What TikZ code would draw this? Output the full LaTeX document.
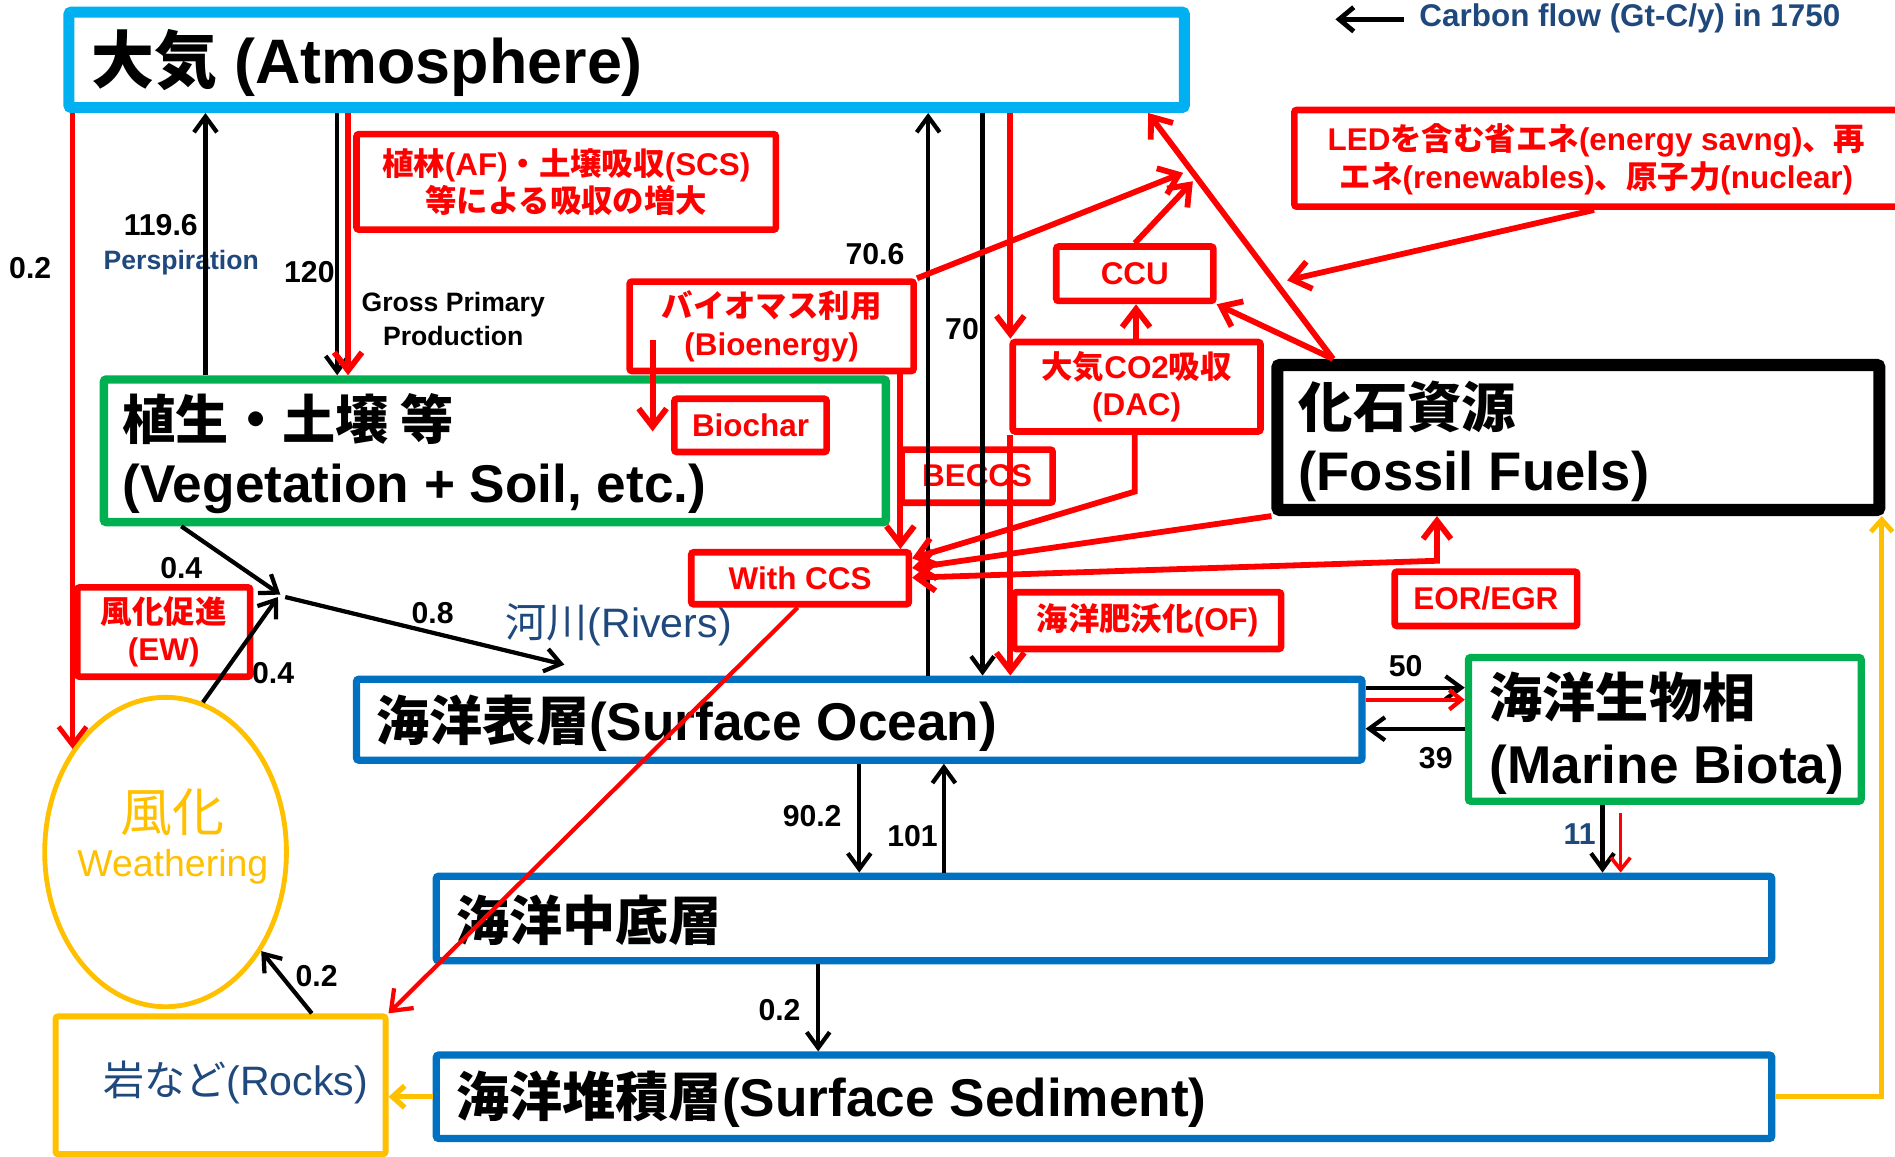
\documentclass[tikz,border=0pt]{standalone}
\usepackage{fontspec}
\setmainfont{Liberation Sans}
\newfontfamily\jp{Noto Sans CJK JP}
\newcommand\J[1]{{\jp #1}}
\newcommand\fs[2]{\fontsize{#1}{#2}\selectfont}
\usetikzlibrary{arrows.meta,shapes.geometric,fit}
\definecolor{cyanb}{HTML}{00B0F0}
\definecolor{grn}{HTML}{00B050}
\definecolor{blu}{HTML}{0070C0}
\definecolor{yel}{HTML}{FFC000}
\definecolor{dblue}{HTML}{1F497D}
\definecolor{rd}{HTML}{FF0000}
\tikzset{
  BT/.tip={Straight Barb[length=13pt,width=19pt]},
  RT/.tip={Straight Barb[length=15pt,width=23pt]},
  YT/.tip={Straight Barb[length=10pt,width=18pt]},
  mbox/.style={draw, inner sep=0pt, rounded corners=2pt, fill=white},
  rbox/.style={draw=rd, line width=5.5pt, inner sep=0pt, rounded corners=2pt, fill=white},
  rtxt/.style={text=rd, align=center, inner sep=0pt, font=\bfseries\fs{26}{31}},
  ttl/.style={anchor=base west, font=\bfseries\fs{44}{52}},
  num/.style={font=\bfseries\fs{25}{30}},
  blk/.style={draw=black, line width=3.5pt, -{BT}},
  rar/.style={draw=rd, line width=4.8pt, -{RT}},
  yar/.style={draw=yel, line width=4.5pt, -{YT}},
}
\begin{document}
\begin{tikzpicture}[x=1pt,y=-1pt]
\useasboundingbox (0,0) rectangle (1568,957);
% ---------- main boxes
\node[mbox, draw=cyanb, line width=9pt, fit={(57,10) (980,89)}] (atm) {};
\node[mbox, draw=grn, line width=7pt, fit={(86,314) (733,432)}] (veg) {};
\node[mbox, draw=black, line width=10pt, fit={(1057,302) (1555,422)}] (fos) {};
\node[mbox, draw=blu, line width=6pt, fit={(295,562) (1127,629)}] (sur) {};
\node[mbox, draw=grn, line width=6pt, fit={(1215,544) (1540,663)}] (mar) {};
\node[mbox, draw=blu, line width=6pt, fit={(361,725) (1466,795)}] (mid) {};
\node[mbox, draw=blu, line width=6pt, fit={(361,873) (1466,942)}] (sed) {};
\node[mbox, draw=yel, line width=5pt, fit={(46,841) (319,955)}] (rocks) {};
\node[ellipse, draw=yel, line width=4pt, fill=white, inner sep=0pt,
      minimum width=200pt, minimum height=256pt] (wea) at (137,705) {};
% ---------- main texts
\node[ttl, font=\bfseries\fs{52}{60}] (atmt) at (72,69) {\J{大気} (Atmosphere)};
\node[ttl] (vegt1) at (98,364) {\J{植生・土壌 等}};
\node[ttl] (vegt2) at (98,416) {(Vegetation + Soil, etc.)};
\node[ttl, font=\bfseries\fs{45}{52}] (fost1) at (1071,354) {\J{化石資源}};
\node[ttl, font=\bfseries\fs{45}{52}] (fost2) at (1071,406) {(Fossil Fuels)};
\node[ttl] (surt) at (308,613) {\J{海洋表層}(Surface Ocean)};
\node[ttl] (mart1) at (1229,594) {\J{海洋生物相}};
\node[ttl] (mart2) at (1229,648) {(Marine Biota)};
\node[ttl] (midt) at (374,778) {\J{海洋中底層}};
\node[ttl] (sedt) at (374,924) {\J{海洋堆積層}(Surface Sediment)};
\node[text=yel, font=\fs{43}{50}] (weat1) at (143,672) {\J{風化}};
\node[text=yel, font=\fs{31}{36}] (weat2) at (143,717) {Weathering};
\node[text=dblue, font=\fs{34}{40}] (rockt) at (195,896) {\J{岩など}(Rocks)};
\node[text=dblue, font=\fs{34}{40}] (rivt) at (512,517) {\J{河川}(Rivers)};
% ---------- legend
\coordinate (lg1) at (1162,16);
\coordinate (lg2) at (1105,16);
\draw[line width=4pt, -{Straight Barb[length=12pt,width=20pt]}] (lg1) -- (lg2);
\node[anchor=west, text=dblue, font=\bfseries\fs{26}{30}] (legt) at (1171,15) {Carbon flow (Gt-C/y) in 1750};
% ---------- labels
\node[num] (l02a) at (25,222) {0.2};
\node[num] (l1196) at (133,186) {119.6};
\node[text=dblue, font=\bfseries\fs{22}{26}] (lper) at (150,217) {Perspiration};
\node[num] (l120) at (256,225) {120};
\node[align=center, font=\bfseries\fs{22}{28}] (lgpp) at (375,264) {Gross Primary\\Production};
\node[num] (l706) at (724,210) {70.6};
\node[num] (l70) at (796,272) {70};
\node[num] (l04a) at (150,470) {0.4};
\node[num] (l04b) at (226,557) {0.4};
\node[num] (l08) at (358,507) {0.8};
\node[num] (l902) at (672,675) {90.2};
\node[num] (l101) at (755,692) {101};
\node[num] (l02b) at (645,836) {0.2};
\node[num] (l02c) at (262,808) {0.2};
\node[num] (l50) at (1163,551) {50};
\node[num] (l39) at (1188,627) {39};
\node[num, text=dblue] (l11) at (1307,690) {11};
% ---------- red boxes
\node[rbox, fit={(295,111) (642,190)}] (af) {};
\node[rbox, fit={(1071,91) (1578,171)}] (led) {};
\node[rbox, fit={(874,204) (1004,249)}] (ccu) {};
\node[rbox, fit={(521,233) (756,307)}] (bio) {};
\node[rbox, fit={(838,283) (1043,357)}] (dac) {};
\node[rbox, fit={(558,330) (684,374)}] (biochar) {};
\node[rbox, fit={(746,372) (871,416)}] (beccs) {};
\node[rbox, fit={(572,457) (752,500)}] (ccs) {};
\node[rbox, fit={(839,490) (1060,537)}] (of) {};
\node[rbox, fit={(1154,473) (1305,518)}] (eor) {};
\node[rbox, fit={(64,486) (207,560)}] (ew) {};
\node[rtxt] (aft) at (af.center) {\J{植林}(AF)\J{・土壌吸収}(SCS)\\\J{等による吸収の増大}};
\node[rtxt] (ledt) at (1321,132) {LED\J{を含む省エネ}(energy savng)\J{、再}\\\J{エネ}(renewables)\J{、原子力}(nuclear)};
\node[rtxt] (ccut) at (ccu.center) {CCU};
\node[rtxt] (biot) at (bio.center) {\J{バイオマス利用}\\(Bioenergy)};
\node[rtxt] (dact) at (dac.center) {\J{大気}CO2\J{吸収}\\(DAC)};
\node[rtxt] (biochart) at (biochar.center) {Biochar};
\node[rtxt] (beccst) at (beccs.center) {BECCS};
\node[rtxt] (ccst) at (ccs.center) {With CCS};
\node[rtxt] (oft) at (of.center) {\J{海洋肥沃化}(OF)};
\node[rtxt] (eort) at (eor.center) {EOR/EGR};
\node[rtxt] (ewt) at (ew.center) {\J{風化促進}\\(EW)};
% ---------- coordinates
\coordinate (riv1) at (232,492);
\coordinate (riv2) at (230,494);
\coordinate (riv3) at (236,494);
\coordinate (rivend) at (467,550);
\coordinate (bcstart) at (540,281);
\coordinate (bcend) at (540,357);
\coordinate (conv1) at (979,143);
\coordinate (conv2) at (987,150);
\coordinate (conv3) at (1065,232);
\coordinate (eorc) at (1189,464);
\coordinate (r11) at (1341,673);
% ---------- black arrows
\draw[blk] (veg.north -| 170,0) -- (atm.south -| 170,0);
\draw[blk] (atm.south -| 279,0) -- (veg.north -| 279,0);
\draw[blk] (sur.north -| 768,0) -- (atm.south -| 768,0);
\draw[blk] (atm.south -| 813,0) -- (sur.north -| 813,0);
\draw[blk] (veg.south -| 150,0) -- (riv1);
\draw[blk] (wea.76) -- (riv2);
\draw[blk] (riv3) -- (rivend);
\draw[blk] (sur.south -| 711,0) -- (mid.north -| 711,0);
\draw[blk] (mid.north -| 781,0) -- (sur.south -| 781,0);
\draw[blk] (mid.south -| 677,0) -- (sed.north -| 677,0);
\draw[blk] (rocks.north -| 258,0) -- (wea.-46);
\draw[blk] (sur.east |- 0,569) -- (mar.west |- 0,569);
\draw[blk] (mar.west |- 0,603) -- (sur.east |- 0,603);
\draw[blk] (mar.south -| 1326,0) -- (mid.north -| 1326,0);
% ---------- yellow arrows
\draw[yar] (sed.west) -- (rocks.east |- sed.west);
\draw[yar, line width=4pt] (sed.east) -| (fos.south -| 1557,0);
% ---------- red arrows
\draw[rar, line width=4pt] (atm.south -| 60,0) -- (wea.132 -| 60,0);
\draw[rar] (atm.south -| 288,0) -- (veg.north -| 288,0);
\draw[rar] (atm.south -| 836,0) -- (dac.north -| 836,0);
\draw[rar] (dac.south -| 836,0) -- (sur.north -| 836,0);
\draw[rar] (bcstart) -- (bcend);
\draw[rar] (bio.south -| 745,0) -- (ccs.north -| 745,0);
\draw[rar] (bio.north east) -- (conv1);
\draw[rar] (ccu.north) -- (conv2);
\draw[rar] (fos.north -| 1103,0) -- (atm.south -| 950,0);
\draw[rar] (fos.north -| 1103,0) -- (ccu.south east);
\draw[rar] (led.south -| 1319,0) -- (conv3);
\draw[rar] (dac.north -| 940,0) -- (ccu.south -| 940,0);
\draw[rar] (dac.south -| 939,0) -- ++(0,47) -- (ccs.east |- 0,462);
\draw[rar] (fos.south west) -- (ccs.east |- 0,470);
\draw[rar, {RT}-{RT}] (ccs.east |- 0,478) -- (eorc) -- (fos.south -| 1189,0);
\draw[rar, line width=3.5pt] (ccs.south -| 660,0) -- (rocks.north east);
\draw[rar, line width=3.5pt, -{Straight Barb[length=10pt,width=16pt]}] (sur.east |- 0,579) -- (mar.west |- 0,579);
\draw[rar, line width=3pt, -{Straight Barb[length=10pt,width=16pt]}] (r11) -- (mid.north -| 1341,0);
\end{tikzpicture}
\end{document}
